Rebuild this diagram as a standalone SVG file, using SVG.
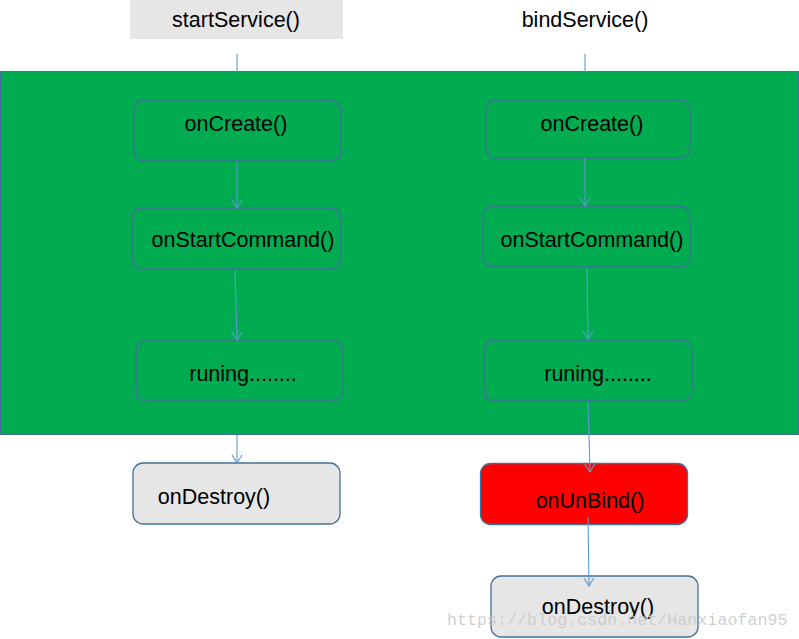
<svg xmlns="http://www.w3.org/2000/svg" width="799" height="639" viewBox="0 0 799 639">
<style>
.t{font-family:"Liberation Sans",Arial,sans-serif;font-size:21.5px;fill:#000;text-anchor:middle;dominant-baseline:central}
.n{fill:none;stroke:#41719c;stroke-width:1.3}
.g{fill:#e6e6e6;stroke:#41719c;stroke-width:1.3}
.c{fill:none;stroke:#5b9bd5;stroke-width:1.1}
.wm{font-family:"Liberation Mono",monospace;font-size:16.7px;fill:#c8c8c8;fill-opacity:0.85}
</style>
<defs>
<marker id="a" markerWidth="12" markerHeight="12" refX="10" refY="6" orient="auto" markerUnits="userSpaceOnUse">
<path d="M2,1 L10,6 L2,11" fill="none" stroke="#5b9bd5" stroke-width="1.1"/>
</marker>
</defs>
<rect width="799" height="639" fill="#fff"/>
<g id="startService"><rect x="130" y="0" width="213" height="39" fill="#e6e6e6"/><text class="t" x="236" y="20">startService()</text></g>
<g id="bindService"><text class="t" x="585" y="20">bindService()</text></g>
<g id="container"><rect x="0.5" y="71.5" width="798" height="363" fill="#00ac4f" stroke="#41719c" stroke-width="1"/></g>
<g id="onCreateL"><rect class="n" x="134" y="100" width="207" height="61" rx="10"/><text class="t" x="236" y="124">onCreate()</text></g>
<g id="onStartCommandL"><rect class="n" x="132" y="208" width="209" height="61" rx="10"/><text class="t" x="243" y="240">onStartCommand()</text></g>
<g id="runingL"><rect class="n" x="136" y="340" width="207" height="61" rx="10"/><text class="t" x="243" y="374">runing........</text></g>
<g id="onDestroyL"><rect class="g" x="133" y="463" width="207" height="61" rx="10"/><text class="t" x="214" y="497">onDestroy()</text></g>
<g id="onCreateR"><rect class="n" x="486" y="100" width="204" height="58" rx="10"/><text class="t" x="592" y="124">onCreate()</text></g>
<g id="onStartCommandR"><rect class="n" x="483" y="206" width="207" height="61" rx="10"/><text class="t" x="592" y="240">onStartCommand()</text></g>
<g id="runingR"><rect class="n" x="484" y="340" width="208" height="61" rx="10"/><text class="t" x="598" y="374">runing........</text></g>
<g id="onUnBind"><rect x="480.5" y="463.5" width="207" height="61" rx="10" fill="#ff0000" stroke="#41719c" stroke-width="1.3"/><text class="t" x="590" y="501">onUnBind()</text></g>
<g id="onDestroyR"><rect class="g" x="491" y="576" width="207" height="61" rx="10"/><text class="t" x="598" y="607">onDestroy()</text></g>
<g id="connectors">
<line class="c" x1="237" y1="54" x2="237" y2="72"/>
<line class="c" x1="585" y1="54" x2="585" y2="72"/>
<line class="c" x1="237" y1="162" x2="237" y2="208" marker-end="url(#a)"/>
<line class="c" x1="235" y1="270" x2="237" y2="340" marker-end="url(#a)"/>
<line class="c" x1="237" y1="435" x2="237" y2="463" marker-end="url(#a)"/>
<line class="c" x1="585" y1="158" x2="585" y2="206" marker-end="url(#a)"/>
<line class="c" x1="587" y1="268" x2="588" y2="339" marker-end="url(#a)"/>
<line class="c" x1="588" y1="402" x2="590" y2="472" marker-end="url(#a)"/>
<line class="c" x1="588" y1="517" x2="589" y2="586" marker-end="url(#a)"/>
</g>
<text class="wm" x="447" y="625">https://blog.csdn.net/Hanxiaofan95</text>
</svg>
